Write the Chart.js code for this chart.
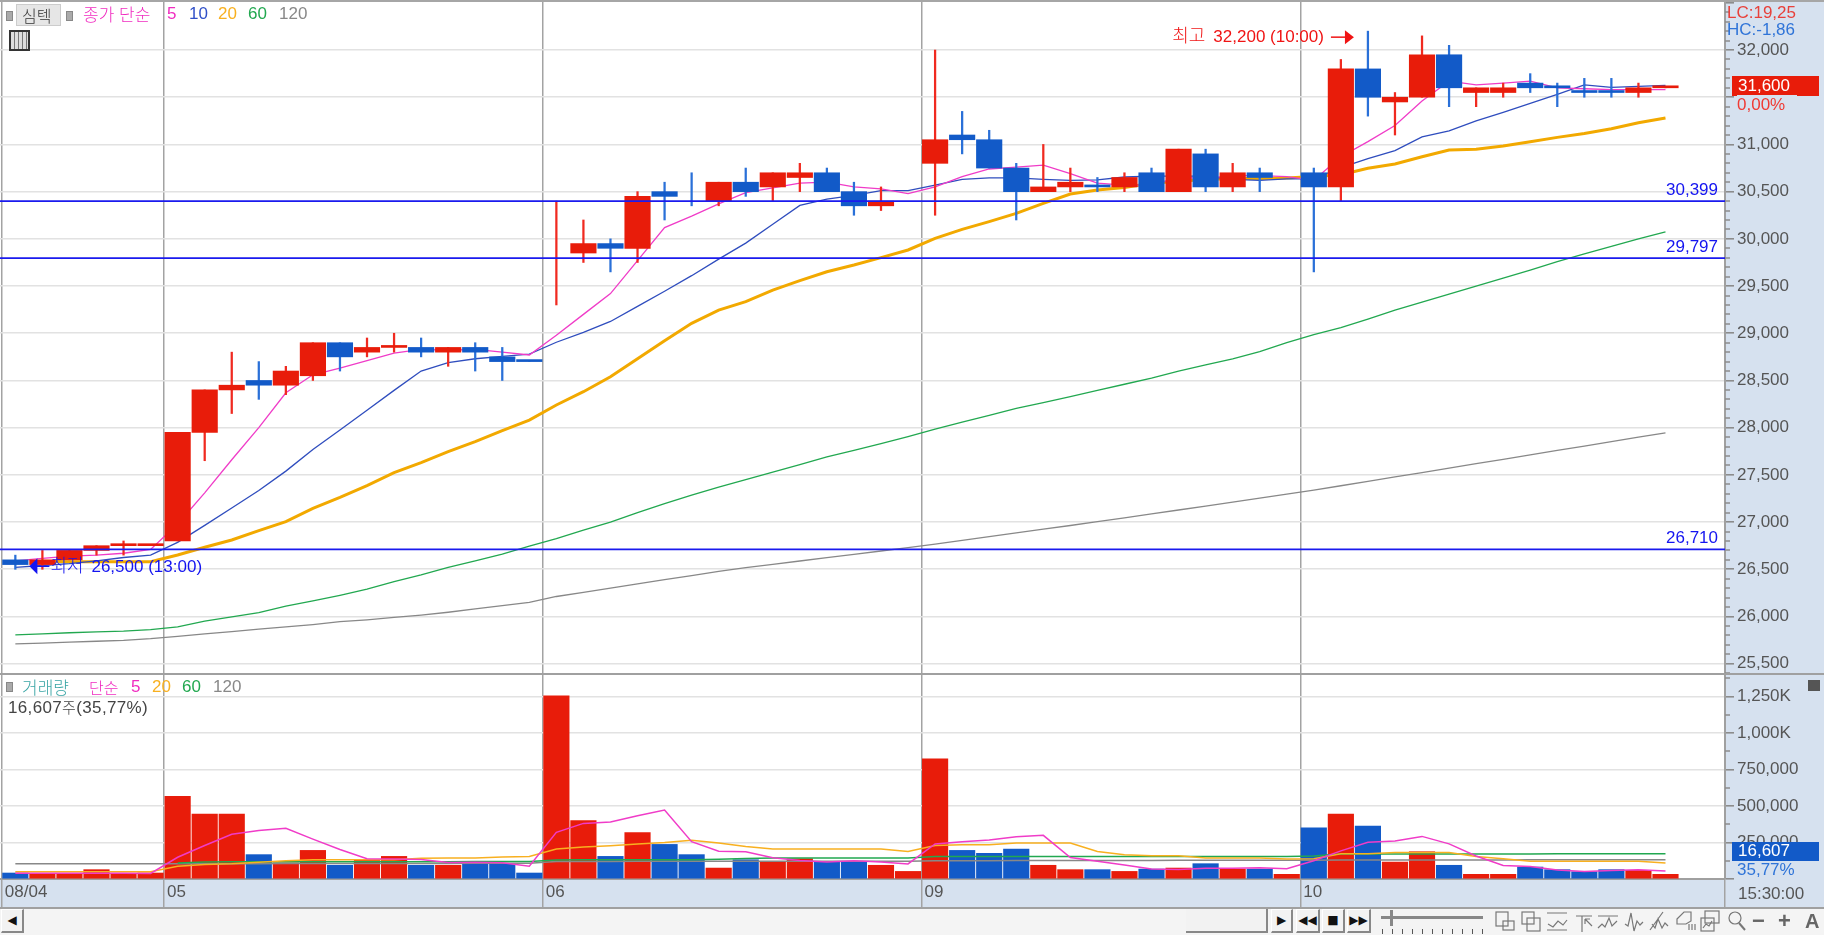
<!DOCTYPE html>
<html lang="ko">
<head>
<meta charset="utf-8">
<title>심텍</title>
<script src="https://cdn.jsdelivr.net/npm/chart.js@4"></script>
<style>
  html, body { margin: 0; padding: 0; width: 1824px; height: 935px; overflow: hidden; background: #f4f4f4; }
  canvas { position: absolute; left: 0; background: #d6e1ef; }
  #priceCanvas { top: 0; }
  #volumeCanvas { top: 674px; }
  .t { position: absolute; white-space: nowrap; font-family: "Liberation Sans", "Noto Sans CJK KR", sans-serif; font-size: 17px; line-height: 20px; color: #555; }
  .k { font-family: "Noto Sans CJK KR", sans-serif; font-size: 17px; font-weight: 300; }
  .box { position: absolute; box-sizing: border-box; }
  .dot { position: absolute; width: 7px; height: 10px; background: #aaa; border: 1px solid #888; box-sizing: border-box; }
  .btn { position: absolute; box-sizing: border-box; top: 909px; height: 24px; background: #f2f2f2; border: 1px solid #fff; border-right: 2px solid #888; border-bottom: 2px solid #888; text-align: center; font: 12px/20px "DejaVu Sans", sans-serif; color: #111; }
  svg { position: absolute; top: 910px; fill: none; stroke: #777; stroke-width: 1.2; }
</style>
</head>
<body>
<canvas id="priceCanvas" width="1824" height="674" style="width:1824px;height:674px"></canvas>
<canvas id="volumeCanvas" width="1824" height="234" style="width:1824px;height:234px"></canvas>

<!-- pane frame -->
<div class="box" style="left:0;top:0;width:1824px;height:2px;background:#a6a6a6"></div>
<div class="box" style="left:0;top:673px;width:1824px;height:2px;background:#a0a0a0"></div>
<div class="box" style="left:0;top:907px;width:1824px;height:2px;background:#a0a0a0"></div>

<!-- price legend -->
<div class="dot" style="left:6px;top:11px"></div>
<div class="box" style="left:16px;top:4px;width:45px;height:22px;background:#e6e6e6;border:1px solid #ccc"></div>
<div class="t k" style="left:22px;top:5px;color:#333;font-size:16px">심텍</div>
<div class="dot" style="left:66px;top:11px"></div>
<div class="t k" style="left:83px;top:4px;color:#f02cc0">종가 단순</div>
<div class="t" style="left:167px;top:4px;color:#f02cc0">5</div>
<div class="t" style="left:189px;top:4px;color:#3050c8">10</div>
<div class="t" style="left:218px;top:4px;color:#f8b020">20</div>
<div class="t" style="left:248px;top:4px;color:#22a850">60</div>
<div class="t" style="left:279px;top:4px;color:#888">120</div>
<div class="box" style="left:9px;top:30px;width:21px;height:21px;border:2px solid #333;background:repeating-linear-gradient(90deg,#ddd 0 3px,#777 3px 4px)"></div>

<!-- price side labels -->
<div class="t" style="left:1727px;top:3px;color:#e8403a">LC:19,25</div>
<div class="t" style="left:1727px;top:20px;color:#2f74d8">HC:-1,86</div>
<div class="box" style="left:1732px;top:76px;width:87px;height:20px;background:#e81c0a"></div>
<div class="t" style="left:1738px;top:76px;color:#fff">31,600</div>
<div class="t" style="left:1737px;top:95px;width:60px;background:#d6e1ef;color:#f03a34">0,00%</div>

<!-- volume legend -->
<div class="dot" style="left:6px;top:682px"></div>
<div class="t k" style="left:22px;top:677px;color:#3aa5a5">거래량</div>
<div class="t k" style="left:89px;top:677px;color:#f02cc0;font-size:16px">단순</div>
<div class="t" style="left:131px;top:677px;color:#f02cc0">5</div>
<div class="t" style="left:152px;top:677px;color:#f8b020">20</div>
<div class="t" style="left:182px;top:677px;color:#22a850">60</div>
<div class="t" style="left:213px;top:677px;color:#888">120</div>
<div class="t" style="left:8px;top:697px;color:#444;letter-spacing:.35px">16,607<span class="k" style="font-size:15px">주</span>(35,77%)</div>

<!-- volume side labels -->
<div class="box" style="left:1808px;top:680px;width:12px;height:11px;background:#555"></div>
<div class="box" style="left:1732px;top:842px;width:87px;height:19px;background:#125ac8"></div>
<div class="t" style="left:1738px;top:841px;color:#fff">16,607</div>
<div class="t" style="left:1737px;top:860px;color:#2f74d8">35,77%</div>
<div class="t" style="left:1738px;top:884px">15:30:00</div>

<!-- toolbar -->
<div class="btn" style="left:1px;width:23px">◀</div>
<div class="box" style="left:1186px;top:909px;width:82px;height:24px;background:#f2f2f2;border-bottom:2px solid #888;border-right:2px solid #888"></div>
<div class="btn" style="left:1271px;width:22px">▶</div>
<div class="btn" style="left:1296px;width:24px">◀◀</div>
<div class="btn" style="left:1322px;width:23px">■</div>
<div class="btn" style="left:1347px;width:24px">▶▶</div>
<div class="box" style="left:1381px;top:916px;width:102px;height:3px;background:#888"></div>
<div class="box" style="left:1390px;top:910px;width:3px;height:16px;background:#888"></div>
<div class="box" style="left:1382px;top:929px;width:102px;height:5px;background:repeating-linear-gradient(90deg,#555 0 1.5px,transparent 1.5px 10px)"></div>
<svg style="left:1495px" width="20" height="22"><rect x="1" y="2" width="12" height="14"/><rect x="8" y="11" width="11" height="9"/></svg>
<svg style="left:1521px" width="20" height="22"><rect x="1" y="2" width="12" height="12"/><rect x="6" y="8" width="13" height="13"/></svg>
<svg style="left:1546px" width="22" height="22"><path d="M1 3h20M1 20h20M2 14l5 3 5-6 5 4 4-5"/></svg>
<svg style="left:1574px" width="20" height="22"><path d="M2 6h16M8 6v16M11 9l7 7M11 9h5M11 9v5"/></svg>
<svg style="left:1597px" width="22" height="22"><path d="M1 18l4-4 3 3 4-9 3 8 5-5M1 6h20"/></svg>
<svg style="left:1624px" width="20" height="22"><path d="M1 14l3 2 3-13 3 18 3-10 3 4 3-3"/></svg>
<svg style="left:1649px" width="20" height="22"><path d="M1 20L14 2M3 14l3 4 3-9 4 9 3-5 3 3"/></svg>
<svg style="left:1676px" width="20" height="22"><path d="M1 9l7-7h7v9l-5 3H1zM13 20v-6M16 20v-6M19 20v-6"/></svg>
<svg style="left:1700px" width="20" height="22"><rect x="5" y="1" width="14" height="12"/><rect x="1" y="8" width="13" height="13"/><path d="M3 18l3-4 3 2 3-5"/></svg>
<svg style="left:1727px" width="20" height="22"><circle cx="8" cy="8" r="6"/><path d="M12 13l6 7" stroke-width="2"/></svg>
<div class="t" style="left:1752px;top:908px;font:bold 22px/26px 'Liberation Sans';color:#666">−</div>
<div class="t" style="left:1778px;top:908px;font:bold 22px/26px 'Liberation Sans';color:#666">+</div>
<div class="t" style="left:1805px;top:908px;font:bold 20px/26px 'Liberation Sans';color:#666">A</div>

<script>
// candles, one per slot (won). null body = no body visible, wick only or nothing
const opens = [26600,26550,26600,26700,26750,26750,26800,27950,28400,28500,28450,28550,28900,28800,28850,28850,28800,28850,28750,28700,null,29850,29950,29900,30500,null,30400,30600,30550,30650,30700,30500,30350,null,30800,31100,31050,30750,30500,30550,30550,30550,30700,30500,30900,30550,30700,null,30700,30550,31800,31450,31500,31950,31550,31550,31650,31600,31550,31550,31550,31600];
const closes = [26550,26600,26700,26750,26750,26750,27950,28400,28450,28450,28600,28900,28750,28850,28850,28800,28850,28800,28700,28700,null,29950,29900,30450,30450,null,30600,30500,30700,30700,30500,30350,30400,null,31050,31050,30750,30500,30550,30600,30550,30650,30500,30950,30550,30700,30650,null,30550,31800,31500,31500,31950,31600,31600,31600,31600,31600,31550,31550,31600,31600];
const highs = [26650,26700,26700,26750,26800,26750,27950,28400,28800,28700,28650,28900,28900,28950,29000,28950,28850,28900,28850,28700,30400,30200,30000,30500,30600,30700,30600,30750,30700,30800,30750,30600,30550,null,32000,31350,31150,30800,31000,30750,30650,30700,30750,30950,30950,30800,30750,null,30750,31900,32200,31550,32150,32050,31600,31650,31750,31650,31700,31700,31650,31600];
const lows = [26500,26500,26600,26650,26650,26750,26800,27650,28150,28300,28350,28500,28600,28750,28800,28750,28650,28600,28500,28700,29300,29750,29650,29750,30200,30350,30350,30450,30400,30500,30500,30250,30300,null,30250,30900,30750,30200,30500,30500,30500,30500,30500,30500,30500,30500,30500,null,29650,30400,31300,31100,31500,31400,31400,31500,31550,31400,31500,31500,31500,31600];
// slots with open == close (or wick only) that are painted blue
const flatDown = [19,25,40,57,58,59];

const ma5 = [26590,26615,26640,26650,26670,26710,26980,27310,27660,28000,28370,28560,28630,28710,28790,28830,28820,28830,28800,28770,28980,29200,29420,29770,30120,30240,30370,30490,30540,30590,30600,30550,30530,30480,30550,30660,30740,30760,30780,30690,30590,30570,30570,30650,30640,30670,30670,30660,30620,30870,31030,31200,31460,31670,31630,31650,31670,31600,31590,31580,31580,31580];
const ma10 = [26520,26540,26560,26590,26625,26650,26785,26965,27150,27335,27540,27770,27975,28185,28395,28600,28690,28730,28755,28780,28905,29010,29125,29285,29445,29610,29785,29955,30155,30355,30420,30460,30510,30510,30570,30630,30645,30645,30630,30620,30625,30655,30665,30665,30665,30630,30620,30635,30635,30755,30850,30935,31080,31145,31250,31340,31435,31530,31630,31605,31615,31625];
const ma20 = [null,26585,26580,26580,26580,26580,26651,26733,26810,26910,27005,27146,27262,27386,27524,27630,27746,27852,27968,28081,28240,28381,28540,28730,28922,29105,29246,29335,29458,29557,29652,29723,29801,29882,30005,30100,30182,30270,30376,30475,30517,30545,30588,30610,30630,30640,30640,30645,30660,30680,30747,30793,30870,30941,30948,30983,31029,31075,31117,31167,31230,31280];
const ma60 = [25805,25815,25828,25838,25845,25860,25890,25950,25995,26040,26110,26165,26225,26290,26370,26440,26520,26590,26660,26745,26825,26915,27000,27100,27195,27285,27370,27450,27530,27610,27690,27760,27830,27905,27985,28060,28130,28205,28265,28330,28395,28460,28525,28600,28665,28730,28805,28900,28985,29060,29150,29245,29330,29415,29500,29585,29670,29760,29840,29920,30000,30075];
const ma120 = [25710,25718,25728,25738,25748,25765,25790,25815,25840,25866,25890,25915,25945,25965,25990,26015,26045,26080,26115,26150,26212,26256,26300,26345,26390,26434,26478,26518,26553,26588,26623,26658,26694,26730,26767,26806,26846,26885,26925,26964,27004,27044,27086,27128,27170,27212,27254,27296,27338,27385,27432,27478,27525,27572,27619,27665,27712,27759,27805,27852,27899,27945];

const levels = [30399, 29797, 26710];
const priceTicksMajor = 500;
// the top tick falls off the labelled range, 31,500 sits under the change figure
const priceLabelsHidden = [32500];

// volume (shares)
const volumes = [41000,36000,36000,64000,36000,41000,566000,445000,445000,167000,110000,196000,94000,128000,155000,94000,94000,105000,105000,41000,1255000,401000,155000,319000,237000,167000,75000,132000,121000,139000,116000,116000,94000,52000,823000,196000,176000,205000,94000,64000,64000,52000,68000,75000,105000,68000,68000,32000,351000,445000,363000,116000,187000,94000,32000,32000,82000,64000,50000,64000,59000,32000];
const volMa5 = [40000,40000,40000,40000,40000,38000,149000,230000,307000,333000,347000,273000,202000,139000,137000,133000,113000,115000,111000,88000,320000,381000,391000,434000,473000,256000,191000,186000,146000,127000,117000,125000,117000,103000,240000,256000,268000,290000,299000,147000,121000,96000,68000,65000,73000,74000,77000,70000,125000,193000,252000,261000,292000,241000,158000,92000,85000,61000,52000,58000,64000,54000];
const volMa20 = [50000,50000,50000,50000,50000,50000,87000,100000,105000,115000,125000,132000,132000,132000,132000,142000,144000,144000,150000,155000,205000,220000,228000,240000,250000,265000,246000,223000,205000,205000,205000,205000,205000,189000,230000,235000,235000,246000,246000,246000,189000,167000,160000,160000,144000,144000,144000,137000,139000,173000,173000,182000,182000,182000,155000,139000,121000,121000,121000,121000,121000,109000];
const volMa60 = [null,null,null,null,null,null,110000,116000,118000,118000,118000,118000,118000,118000,118000,118000,118000,120000,120000,120000,130000,132000,132000,132000,132000,132000,136000,140000,144000,144000,144000,144000,144000,144000,155000,155000,155000,155000,155000,155000,155000,155000,155000,155000,155000,155000,155000,155000,158000,171000,171000,171000,172000,172000,172000,172000,172000,173000,173000,173000,173000,173000];
const volMa120 = [105000,105000,105000,105000,105000,105000,105000,105000,105000,105000,106000,106000,106000,106000,107000,107000,107000,108000,108000,108000,120000,120000,120000,121000,121000,121000,121000,121000,121000,122000,122000,122000,122000,122000,125000,125000,125000,126000,126000,126000,127000,127000,127000,128000,128000,128000,128000,129000,129000,130000,130000,130000,130000,131000,131000,131000,132000,132000,132000,132000,132000,132000];
const volumeTicks = [0,125000,250000,375000,500000,625000,750000,875000,1000000,1125000,1250000,1375000];
const volumeTicksMajor = 250000;

// axis labels: boundary of each session on the slot axis
const dayTicks = [-0.5, 5.5, 19.5, 33.5, 47.5];
const dayLabels = ['08/04', '05', '06', '09', '10'];
const slots = closes.map((_, i) => i);

const X_MIN = -0.567;
const X_MAX = 63.2;
const RED = '#e81c0a', BLUE = '#125ac8';
const TEXT_FONT = '17px "Liberation Sans", sans-serif';
const WORD_FONT = '300 18px "Noto Sans CJK KR", sans-serif';
const AXIS_FONT = { family: '"Liberation Sans", sans-serif', size: 17 };

const isDown = i => {
    if (closes[i] === opens[i]) return flatDown.includes(i);
    return closes[i] < opens[i];
};
const barColor = ctx => isDown(ctx.dataIndex) ? BLUE : RED;
const wickColor = ctx => isDown(ctx.dataIndex) ? '#2a70d8' : '#f02a20';
const points = arr => arr.map((y, i) => ({ x: slots[i], y }));

const lineSet = (data, color, width, order) => ({
    type: 'line', data: points(data), borderColor: color, borderWidth: width,
    pointRadius: 0, tension: 0, order, spanGaps: false
});

// white plot background, axis colour comes from the canvas css
const paneBg = {
    id: 'paneBg',
    beforeDraw(chart) {
        const { ctx, chartArea: a } = chart;
        ctx.fillStyle = '#fff';
        ctx.fillRect(a.left, a.top, a.right - a.left, a.bottom - a.top);
    }
};

// short ticks between the labelled ones
const minorTicks = {
    id: 'minorTicks',
    afterDraw(chart, args, opts) {
        const { ctx, scales: { y } } = chart;
        ctx.save();
        ctx.strokeStyle = '#8c8c8c';
        ctx.lineWidth = 1.5;
        y.ticks.forEach(t => {
            if (t.value % opts.major === 0) return;
            const py = Math.round(y.getPixelForValue(t.value));
            ctx.beginPath();
            ctx.moveTo(y.left, py);
            ctx.lineTo(y.left + 5, py);
            ctx.stroke();
        });
        ctx.restore();
    }
};

// level captions and the high / low markers
const priceNotes = {
    id: 'priceNotes',
    afterDatasetsDraw(chart) {
        const { ctx, scales: { x, y } } = chart;
        ctx.save();
        ctx.font = TEXT_FONT;
        ctx.textBaseline = 'alphabetic';
        ctx.textAlign = 'right';
        ctx.fillStyle = '#1414f0';
        levels.forEach(v => {
            ctx.fillText(v.toLocaleString('en-US'), x.right - 7, y.getPixelForValue(v) - 6);
        });

        // high of the period
        const hi = Math.max(...highs);
        const hx = x.getPixelForValue(highs.indexOf(hi));
        const hy = y.getPixelForValue(hi) + 6;
        ctx.fillStyle = ctx.strokeStyle = '#f01414';
        ctx.lineWidth = 1.5;
        const hiWord = '최고  ';
        const hiRest = hi.toLocaleString('en-US') + ' (10:00)';
        ctx.fillText(hiRest, hx - 44, hy + 5);
        const hw = ctx.measureText(hiRest).width;
        ctx.font = WORD_FONT;
        ctx.fillText(hiWord, hx - 44 - hw, hy + 5);
        ctx.beginPath();
        ctx.moveTo(hx - 37, hy);
        ctx.lineTo(hx - 22, hy);
        ctx.stroke();
        ctx.beginPath();
        ctx.moveTo(hx - 14, hy);
        ctx.lineTo(hx - 23, hy - 7);
        ctx.lineTo(hx - 23, hy + 7);
        ctx.fill();

        // low of the period
        const lo = Math.min(...lows.filter(v => v !== null));
        const lx = x.getPixelForValue(lows.lastIndexOf(lo));
        const ly = y.getPixelForValue(lo) - 3;
        ctx.fillStyle = ctx.strokeStyle = '#1414f0';
        ctx.beginPath();
        ctx.moveTo(lx + 7, ly);
        ctx.lineTo(lx - 12, ly);
        ctx.stroke();
        ctx.beginPath();
        ctx.moveTo(lx - 13, ly);
        ctx.lineTo(lx - 5, ly - 8);
        ctx.lineTo(lx - 5, ly + 8);
        ctx.fill();
        ctx.textAlign = 'left';
        ctx.font = WORD_FONT;
        const loWord = '최저  ';
        ctx.fillText(loWord, lx + 8, ly + 6);
        const lw = ctx.measureText(loWord).width;
        ctx.font = TEXT_FONT;
        ctx.fillText(lo.toLocaleString('en-US') + ' (13:00)', lx + 8 + lw, ly + 6);
        ctx.restore();
    }
};

const slotAxis = (showLabels) => ({
    type: 'linear',
    offset: false,
    min: X_MIN,
    max: X_MAX,
    afterBuildTicks: axis => {
        axis.ticks = dayTicks.concat(X_MAX).map(value => ({ value }));
    },
    afterFit: axis => {
        axis.height = showLabels ? 29 : 0;
        axis.paddingLeft = 0;
        axis.paddingRight = 0;
    },
    border: { display: showLabels, color: '#a0a0a0', width: 2 },
    grid: { offset: false, color: '#a3a3a3', lineWidth: 1.5, tickColor: '#a3a3a3', drawTicks: showLabels, tickLength: 28 },
    ticks: {
        display: showLabels,
        autoSkip: false,
        maxRotation: 0,
        align: 'start',
        labelOffset: 3,
        padding: -25,
        color: '#555',
        font: AXIS_FONT,
        callback: (value, i) => dayLabels[i] || ''
    }
});

const valueAxis = (min, max, major, format, extra) => ({
    position: 'right',
    min,
    max,
    afterFit: axis => {
        axis.width = 99;
        axis.paddingTop = 0;
        axis.paddingBottom = 0;
    },
    border: { color: '#a0a0a0', width: 2 },
    grid: {
        color: ctx => ctx.tick && ctx.tick.value % major === 0 && ctx.tick.value > 0 && !priceLabelsHidden.includes(ctx.tick.value) ? '#e2e2e2' : 'transparent',
        lineWidth: 1.6,
        tickLength: 9,
        tickColor: ctx => ctx.tick && ctx.tick.value % major === 0 ? '#8c8c8c' : 'transparent'
    },
    ticks: {
        includeBounds: false,
        autoSkip: false,
        padding: 3,
        color: '#555',
        font: AXIS_FONT,
        callback: value => (value % major === 0 && value > 0 && !priceLabelsHidden.includes(value)) ? format(value) : '',
        ...extra.ticks
    },
    ...extra.axis
});

const commonOptions = {
    responsive: false,
    animation: false,
    events: [],
    layout: { padding: 0 },
    plugins: { legend: { display: false }, tooltip: { enabled: false } }
};

new Chart(document.getElementById('priceCanvas'), {
    type: 'bar',
    data: {
        datasets: [
            ...levels.map(v => ({
                type: 'line',
                data: [{ x: X_MIN, y: v }, { x: X_MAX, y: v }],
                borderColor: '#1a1aee', borderWidth: 1.8, pointRadius: 0, order: 0
            })),
            {
                data: slots.map(i => ({ x: i, y: opens[i] === null ? null : [opens[i], closes[i]] })),
                backgroundColor: barColor, barThickness: 25.5, minBarLength: 2, grouped: false, order: 1
            },
            {
                data: slots.map(i => ({ x: i, y: highs[i] === null ? null : [lows[i], highs[i]] })),
                backgroundColor: wickColor, barThickness: 1.6, grouped: false, order: 2
            },
            lineSet(ma5, '#f03cc8', 1.3, 3),
            lineSet(ma10, '#2f4dbe', 1.3, 4),
            lineSet(ma20, '#f2a900', 3, 5),
            lineSet(ma60, '#22a850', 1.3, 6),
            lineSet(ma120, '#888888', 1.3, 7)
        ]
    },
    options: {
        ...commonOptions,
        plugins: { ...commonOptions.plugins, minorTicks: { major: priceTicksMajor } },
        scales: {
            x: slotAxis(false),
            y: valueAxis(25391, 32530, priceTicksMajor, v => v.toLocaleString('en-US'), { ticks: { stepSize: 100 } })
        }
    },
    plugins: [paneBg, minorTicks, priceNotes]
});

new Chart(document.getElementById('volumeCanvas'), {
    type: 'bar',
    data: {
        datasets: [
            lineSet(volMa5, '#f03cc8', 1.5, 0),
            lineSet(volMa20, '#f8b020', 1.5, 1),
            lineSet(volMa60, '#22a850', 1.5, 2),
            lineSet(volMa120, '#888888', 1.5, 3),
            {
                data: points(volumes),
                backgroundColor: barColor, barThickness: 25.5, grouped: false, order: 4
            }
        ]
    },
    options: {
        ...commonOptions,
        plugins: { ...commonOptions.plugins, minorTicks: { major: volumeTicksMajor } },
        scales: {
            x: slotAxis(true),
            // stepSize 125000 gets re-spaced by Chart.js here, so list the ticks
            y: valueAxis(0, 1405000, volumeTicksMajor, v =>
                v >= 1000000 ? (v / 1000).toLocaleString('en-US') + 'K' : v.toLocaleString('en-US'),
                { axis: { afterBuildTicks: axis => { axis.ticks = volumeTicks.map(value => ({ value })); } } })
        }
    },
    plugins: [paneBg, minorTicks]
});
</script>
</body>
</html>
